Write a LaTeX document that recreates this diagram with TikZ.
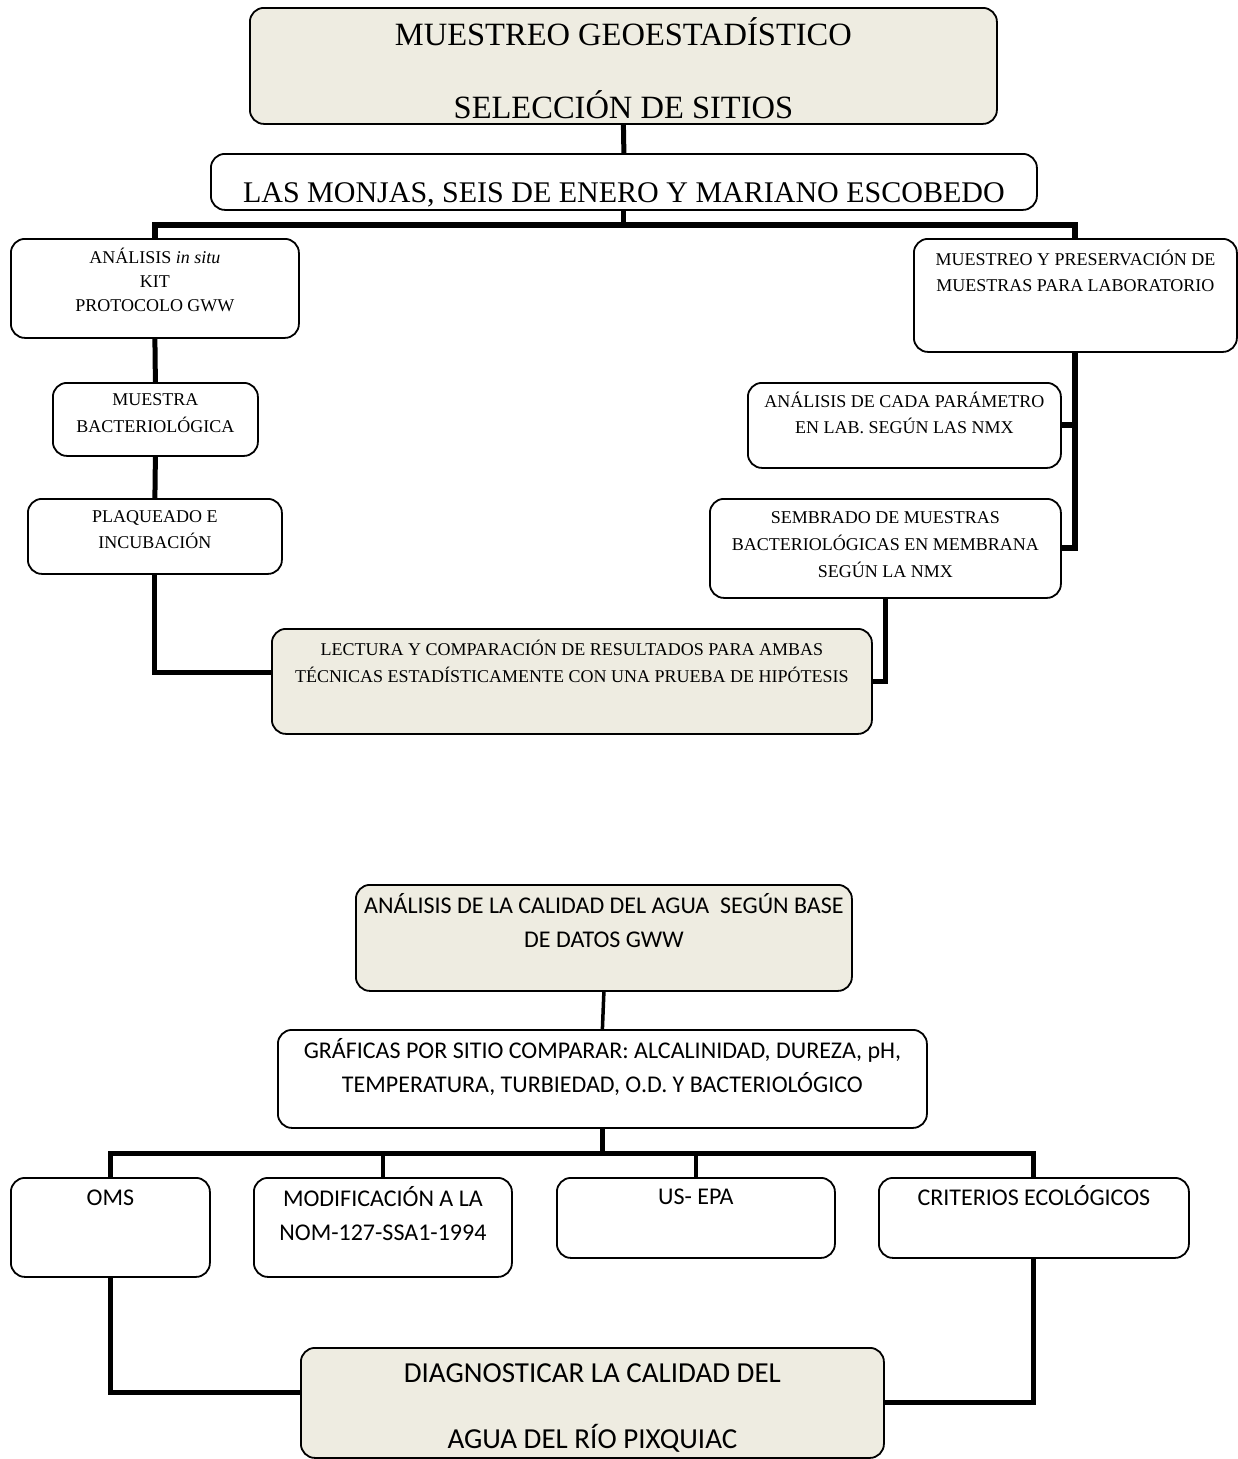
\documentclass[tikz,border=0pt]{standalone}
\usepackage{fontspec}
\setmainfont{Liberation Serif}
\newfontfamily\calibri{Carlito}
\usepackage{tikz}
\usetikzlibrary{positioning}
\definecolor{fondo}{HTML}{EEECE1}
\newcommand{\sube}{\rule{0pt}{1em}}

\begin{document}
\begin{tikzpicture}[x=1pt, y=-1pt,
	caja/.style={draw, line width=1.8pt, rounded corners=14pt, anchor=north west, inner sep=0pt, fill=white},
	cajaf/.style={caja, fill=fondo},
	texto/.style={align=center, inner sep=0pt, outer sep=0pt, font=\fontsize{18}{26}\selectfont},
	ctexto/.style={align=center, inner sep=0pt, outer sep=0pt, font=\calibri\fontsize{24}{34.5}\selectfont},
	linea/.style={line width=5pt}]

	\useasboundingbox (0,0) rectangle (1238,1459);

	\node [cajaf, minimum width=747, minimum height=116] (titulo) at (249,7) {};
	\node [texto, font=\fontsize{32.5}{73}\selectfont, below=5.5pt of titulo.north] (titulo-t)
		{\sube MUESTREO GEOESTADÍSTICO\\SELECCIÓN DE SITIOS};

	\node [caja, minimum width=826, minimum height=56] (sitios) at (210,153) {};
	\node [texto, font=\fontsize{30}{36}\selectfont, below=19pt of sitios.north] (sitios-t)
		{\sube LAS MONJAS, SEIS DE ENERO Y MARIANO ESCOBEDO};

	\node [caja, minimum width=288, minimum height=99] (insitu) at (10,238) {};
	\node [texto, font=\fontsize{18}{24}\selectfont, below=7pt of insitu.north] (insitu-t)
		{\sube ANÁLISIS \textit{in situ}\\KIT\\PROTOCOLO GWW};

	\node [caja, minimum width=205, minimum height=73] (muestra) at (52,382) {};
	\node [texto, font=\fontsize{18}{27}\selectfont, below=5pt of muestra.north] (muestra-t)
		{\sube MUESTRA\\BACTERIOLÓGICA};

	\node [caja, minimum width=254, minimum height=75] (plaqueado) at (27,498) {};
	\node [texto, below=6pt of plaqueado.north] (plaqueado-t)
		{\sube PLAQUEADO E\\INCUBACIÓN};

	\node [cajaf, minimum width=600, minimum height=105] (lectura) at (271,628) {};
	\node [texto, font=\fontsize{18}{27}\selectfont, below=9pt of lectura.north] (lectura-t)
		{\sube LECTURA Y COMPARACIÓN DE RESULTADOS PARA AMBAS\\TÉCNICAS ESTADÍSTICAMENTE CON UNA PRUEBA DE HIPÓTESIS};

	\node [caja, minimum width=323, minimum height=113] (laboratorio) at (913,238) {};
	\node [texto, below=9pt of laboratorio.north] (laboratorio-t)
		{\sube MUESTREO Y PRESERVACIÓN DE\\MUESTRAS PARA LABORATORIO};

	\node [caja, minimum width=313, minimum height=85] (parametro) at (747,382) {};
	\node [texto, below=7pt of parametro.north] (parametro-t)
		{\sube ANÁLISIS DE CADA PARÁMETRO\\EN LAB. SEGÚN LAS NMX};

	\node [caja, minimum width=351, minimum height=99] (sembrado) at (709,498) {};
	\node [texto, font=\fontsize{18}{27}\selectfont, below=7pt of sembrado.north] (sembrado-t)
		{\sube SEMBRADO DE MUESTRAS\\BACTERIOLÓGICAS EN MEMBRANA\\SEGÚN LA NMX};

	\node [cajaf, minimum width=496, minimum height=106] (calidad) at (355,884) {};
	\node [ctexto, below=5pt of calidad.north] (calidad-t)
		{\sube ANÁLISIS DE LA CALIDAD DEL AGUA \ SEGÚN BASE\\DE DATOS GWW};

	\node [caja, minimum width=649, minimum height=98] (graficas) at (277,1029) {};
	\node [ctexto, font=\calibri\fontsize{24}{34}\selectfont, below=5pt of graficas.north] (graficas-t)
		{\sube GRÁFICAS POR SITIO COMPARAR: ALCALINIDAD, DUREZA, pH,\\TEMPERATURA, TURBIEDAD, O.D. Y BACTERIOLÓGICO};

	\node [caja, minimum width=199, minimum height=99] (oms) at (10,1177) {};
	\node [ctexto, below=4pt of oms.north] (oms-t) {\sube OMS};

	\node [caja, minimum width=258, minimum height=99] (norma) at (253,1177) {};
	\node [ctexto, below=5pt of norma.north] (norma-t)
		{\sube MODIFICACIÓN A LA\\NOM-127-SSA1-1994};

	\node [caja, minimum width=278, minimum height=80] (epa) at (556,1177) {};
	\node [ctexto, below=3pt of epa.north] (epa-t) {\sube US- EPA};

	\node [caja, minimum width=310, minimum height=80] (criterios) at (878,1177) {};
	\node [ctexto, below=4pt of criterios.north] (criterios-t) {\sube CRITERIOS ECOLÓGICOS};

	\node [cajaf, minimum width=583, minimum height=110] (diagnostico) at (300,1347) {};
	\node [ctexto, font=\calibri\fontsize{29}{66}\selectfont, below=6pt of diagnostico.north] (diagnostico-t)
		{\sube DIAGNOSTICAR LA CALIDAD DEL\\AGUA DEL RÍO PIXQUIAC};

	\coordinate (nudo1) at (625,224.5);
	\coordinate (nudo2) at (603,1153);

	\draw[linea] (titulo.south) -- (sitios.north);
	\draw[linea] (sitios.south) -- (sitios.south |- nudo1);
	\draw[linea, line width=6pt] (insitu.north) |- (nudo1) -| (laboratorio.north);

	\draw[linea] (insitu.south) -- (muestra.north);
	\draw[linea] (muestra.south) -- (plaqueado.north);
	\draw[linea] (plaqueado.south) |- ([yshift=8.5pt]lectura.west);

	\draw[linea, line width=6pt] (laboratorio.south) |- (sembrado.east);
	\draw[linea, line width=6pt] (laboratorio.south |- parametro.east) -- (parametro.east);
	\draw[linea] (sembrado.south) |- (lectura.east);

	\draw[linea, line width=3.5pt] (calidad.south) -- (graficas.north);
	\draw[linea] (graficas.south) -- (graficas.south |- nudo2);
	\draw[linea] (oms.north) |- (nudo2) -| (criterios.north);
	\draw[linea, line width=4pt] (norma.north) -- (norma.north |- nudo2);
	\draw[linea, line width=4pt] (epa.north) -- (epa.north |- nudo2);
	\draw[linea] (oms.south) |- ([yshift=10pt]diagnostico.west);
	\draw[linea] (criterios.south) |- (diagnostico.east);

\end{tikzpicture}
\end{document}
